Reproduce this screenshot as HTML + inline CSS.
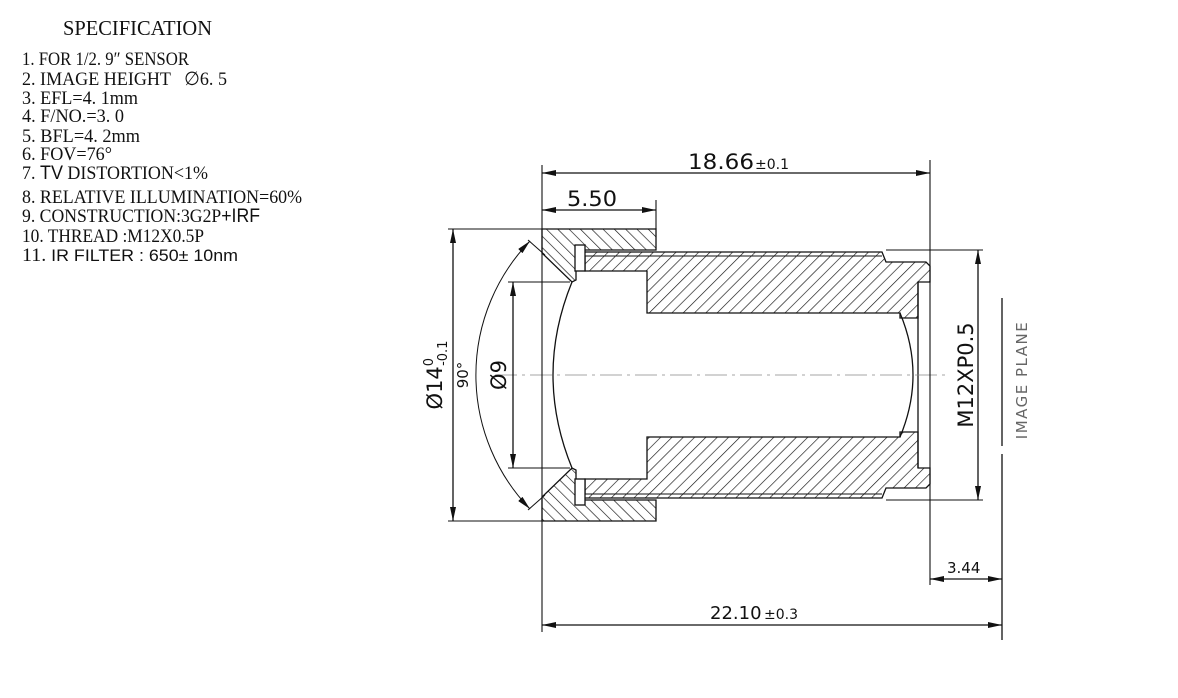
<!DOCTYPE html>
<html><head><meta charset="utf-8"><style>
html,body{margin:0;padding:0;background:#fff;}
svg{display:block;}
</style></head><body>
<svg width="1178" height="698" viewBox="0 0 1178 698" xmlns="http://www.w3.org/2000/svg">
<defs>
<pattern id="hb" patternUnits="userSpaceOnUse" width="8" height="8" patternTransform="rotate(45)">
<line x1="0" y1="0" x2="0" y2="8" stroke="#111" stroke-width="1.3"/></pattern>
<pattern id="hf" patternUnits="userSpaceOnUse" width="8" height="8" patternTransform="rotate(-45)">
<line x1="0" y1="0" x2="0" y2="8" stroke="#111" stroke-width="1.3"/></pattern>
<marker id="ar" viewBox="0 0 14 6" refX="14" refY="3" markerWidth="14" markerHeight="6" markerUnits="userSpaceOnUse" orient="auto-start-reverse">
<path d="M0,0 L14,3 L0,6 z" fill="#111"/></marker>
</defs>
<g font-family="Liberation Serif, serif" fill="#111">
<text x="63" y="35" font-size="21" textLength="149" lengthAdjust="spacingAndGlyphs">SPECIFICATION</text>
<g font-size="19">
<text x="22" y="65" textLength="167" lengthAdjust="spacingAndGlyphs">1. FOR 1/2. 9″ SENSOR</text>
<text x="22" y="85" textLength="205" lengthAdjust="spacingAndGlyphs">2. IMAGE HEIGHT &#160; ∅6. 5</text>
<text x="22" y="104" textLength="116" lengthAdjust="spacingAndGlyphs">3. EFL=4. 1mm</text>
<text x="22" y="122" textLength="102" lengthAdjust="spacingAndGlyphs">4. F/NO.=3. 0</text>
<text x="22" y="142" textLength="118" lengthAdjust="spacingAndGlyphs">5. BFL=4. 2mm</text>
<text x="22" y="160" textLength="90" lengthAdjust="spacingAndGlyphs">6. FOV=76°</text>
<text x="22" y="179" textLength="186" lengthAdjust="spacingAndGlyphs">7. <tspan font-family="Liberation Sans, sans-serif">TV</tspan> DISTORTION&lt;1%</text>
<text x="22" y="203" textLength="280" lengthAdjust="spacingAndGlyphs">8. RELATIVE ILLUMINATION=60%</text>
<text x="22" y="222" textLength="238" lengthAdjust="spacingAndGlyphs">9. CONSTRUCTION:3G2P<tspan font-family="Liberation Sans, sans-serif">+IRF</tspan></text>
<text x="22" y="242" textLength="182" lengthAdjust="spacingAndGlyphs">10. THREAD :M12X0.5P</text>
<text x="22" y="261" textLength="216" lengthAdjust="spacingAndGlyphs">11. <tspan font-family="Liberation Sans, sans-serif" font-size="17">IR FILTER :  650± 10nm</tspan></text>
</g></g>

<g stroke="#111" stroke-width="1.3" fill="none">
<path d="M580,252 L882,252 L886,262 L926,262 L930,266 L930,282 L918,282 L918,318 L900,318 L900,313 L647,313 L647,271 L585,271 L585,256 L580,256 Z" fill="url(#hb)"/>
<path d="M580,498 L882,498 L886,488 L926,488 L930,484 L930,468 L918,468 L918,432 L900,432 L900,437 L647,437 L647,479 L585,479 L585,494 L580,494 Z" fill="url(#hb)"/>
<path d="M542,229 L656,229 L656,250 L576,250 L576,280 L572,282 L542,253 Z" fill="url(#hf)"/>
<path d="M542,521 L656,521 L656,500 L576,500 L576,470 L572,468 L542,497 Z" fill="url(#hf)"/>
<rect x="575" y="245" width="10" height="26" fill="#fff"/>
<rect x="575" y="479" width="10" height="26" fill="#fff"/>
<line x1="585" y1="256" x2="882" y2="256" stroke-width="1"/>
<line x1="585" y1="494" x2="882" y2="494" stroke-width="1"/>
<path d="M572,282 Q534,375 572,468"/>
<path d="M900,313 Q926,375 900,437"/>
<line x1="918" y1="282" x2="918" y2="468"/>
<line x1="495" y1="375" x2="948" y2="375" stroke="#888" stroke-width="0.8" stroke-dasharray="22,5,3,5"/>
<line x1="542" y1="165" x2="542" y2="632" stroke-width="1.1"/>
<line x1="930" y1="160" x2="930" y2="585" stroke-width="1.1"/>
<line x1="656" y1="200" x2="656" y2="229" stroke-width="1.1"/>
<line x1="448" y1="229" x2="542" y2="229" stroke-width="1.1"/>
<line x1="448" y1="521" x2="542" y2="521" stroke-width="1.1"/>
<line x1="508" y1="282" x2="570" y2="282" stroke-width="1.1"/>
<line x1="508" y1="468" x2="570" y2="468" stroke-width="1.1"/>
<line x1="886" y1="250" x2="983" y2="250" stroke-width="1.1"/>
<line x1="886" y1="500" x2="983" y2="500" stroke-width="1.1"/>
<line x1="1002" y1="298" x2="1002" y2="446" stroke-width="1.3"/>
<line x1="1002" y1="454" x2="1002" y2="640" stroke-width="1.3"/>
<line x1="528" y1="240" x2="545" y2="255" stroke-width="1"/>
<line x1="528" y1="510" x2="545" y2="495" stroke-width="1"/>
<line x1="542" y1="173" x2="930" y2="173" marker-start="url(#ar)" marker-end="url(#ar)"/>
<line x1="542" y1="210" x2="656" y2="210" marker-start="url(#ar)" marker-end="url(#ar)"/>
<line x1="453" y1="229" x2="453" y2="521" marker-start="url(#ar)" marker-end="url(#ar)"/>
<line x1="513" y1="282" x2="513" y2="468" marker-start="url(#ar)" marker-end="url(#ar)"/>
<line x1="978" y1="250" x2="978" y2="500" marker-start="url(#ar)" marker-end="url(#ar)"/>
<line x1="930" y1="579" x2="1002" y2="579" marker-start="url(#ar)" marker-end="url(#ar)"/>
<line x1="542" y1="625" x2="1002" y2="625" marker-start="url(#ar)" marker-end="url(#ar)"/>
<path d="M530,241 A193,193 0 0 0 530,509" stroke-width="1" marker-start="url(#ar)" marker-end="url(#ar)"/>
</g>

<g font-family="DejaVu Sans, Liberation Sans, sans-serif" fill="#111">
<text x="688" y="169" font-size="21" textLength="66" lengthAdjust="spacingAndGlyphs">18.66</text>
<text x="755" y="169" font-size="14">±0.1</text>
<text x="567" y="206" font-size="21" textLength="50" lengthAdjust="spacingAndGlyphs">5.50</text>
<text x="710" y="619" font-size="18">22.10</text>
<text x="764" y="619" font-size="14">±0.3</text>
<text x="947" y="573" font-size="15">3.44</text>
<text transform="translate(442,375) rotate(-90)" text-anchor="middle" font-size="21">Ø14<tspan font-size="13" dy="-9">0</tspan><tspan font-size="13" dx="-8" dy="14">-0.1</tspan></text>
<text transform="translate(468,375) rotate(-90)" text-anchor="middle" font-size="15">90°</text>
<text transform="translate(506,375) rotate(-90)" text-anchor="middle" font-size="21">Ø9</text>
<text transform="translate(973,375) rotate(-90)" text-anchor="middle" font-size="21">M12XP0.5</text>
<text transform="translate(1027,380) rotate(-90)" text-anchor="middle" font-size="15" fill="#666" letter-spacing="1.5">IMAGE  PLANE</text>
</g>
</svg>
</body></html>
